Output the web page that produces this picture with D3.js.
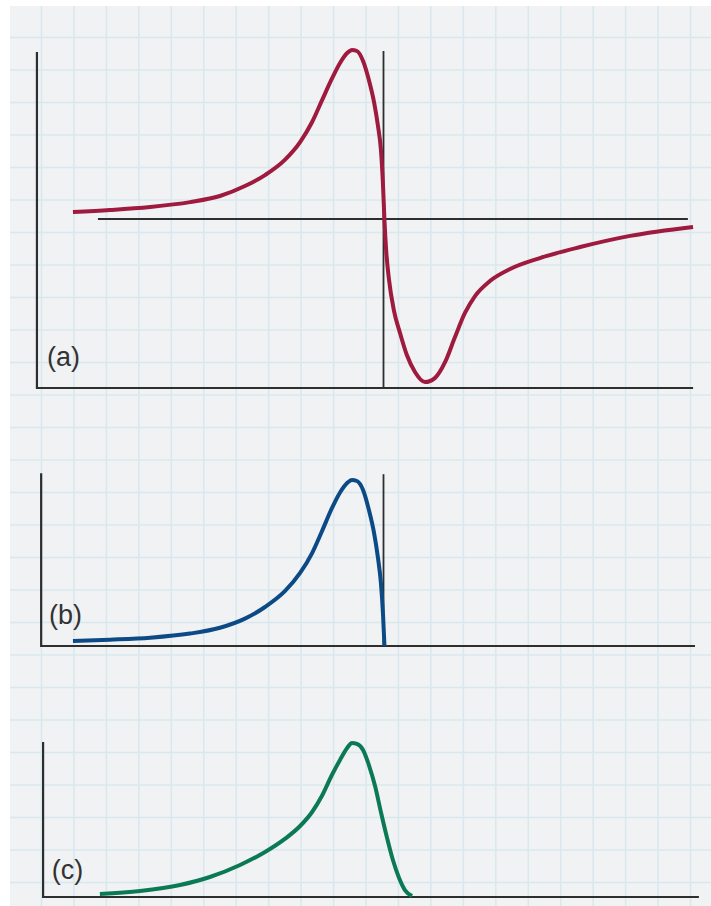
<!DOCTYPE html>
<html>
<head>
<meta charset="utf-8">
<script src="https://cdn.jsdelivr.net/npm/d3@7/dist/d3.min.js"></script>
<style>
  html, body { margin: 0; padding: 0; background: #ffffff; }
  svg { display: block; }
</style>
</head>
<body>
<script>
// Energy axis: 0 sits on the vertical marker line, one unit per grid square.
// Panel (a): derivative-shaped signal (positive lobe, then negative lobe).
const curveA_x = [-9.57, -8.43, -7.19, -5.96, -5.04, -4.27, -3.65, -3.04, -2.57, -2.20, -1.90, -1.59,
                  -1.34, -1.12, -0.97, -0.82, -0.63, -0.45, -0.29, -0.17, -0.08, -0.015, 0.03, 0.08,
                  0.17, 0.32, 0.51, 0.72, 0.97, 1.28, 1.59, 1.90, 2.20, 2.51, 2.82, 3.28, 3.90,
                  4.82, 6.06, 7.60, 9.54];
const curveA_y = [0.041, 0.053, 0.071, 0.10, 0.136, 0.195, 0.26, 0.35, 0.455, 0.574, 0.70, 0.83,
                  0.923, 0.982, 1.0, 0.994, 0.935, 0.822, 0.69, 0.55, 0.41, 0.20, -0.01, -0.18,
                  -0.36, -0.54, -0.675, -0.805, -0.905, -0.965, -0.94, -0.846, -0.70, -0.556, -0.456, -0.367, -0.296,
                  -0.231, -0.166, -0.10, -0.047];

// Panel (b): the positive lobe, cut off at the marker.
const curveB_x = [-9.57, -8.43, -7.19, -5.96, -5.04, -4.27, -3.65, -3.04, -2.57, -2.20, -1.90, -1.59,
                  -1.34, -1.12, -0.97, -0.82, -0.63, -0.45, -0.29, -0.17, -0.08, -0.015, 0.03];
const curveB_y = [0.03, 0.038, 0.05, 0.075, 0.11, 0.165, 0.235, 0.33, 0.44, 0.56, 0.69, 0.83,
                  0.925, 0.982, 1.0, 0.994, 0.94, 0.82, 0.68, 0.53, 0.38, 0.19, 0.0];

// Panel (c): a single peak falling to zero just past the marker.
const curveC_x = [-8.74, -7.50, -6.27, -5.35, -4.42, -3.65, -3.04, -2.57, -2.20, -1.90, -1.59, -1.34,
                  -1.12, -0.97, -0.82, -0.63, -0.45, -0.26, -0.08, 0.11, 0.29, 0.48, 0.66, 0.88];
const curveC_y = [0.019, 0.039, 0.078, 0.13, 0.208, 0.292, 0.377, 0.461, 0.552, 0.656, 0.792, 0.89,
                  0.968, 1.0, 0.994, 0.955, 0.857, 0.721, 0.552, 0.383, 0.24, 0.123, 0.045, 0.006];

const panelLabels = ["(a)", "(b)", "(c)"];

const W = 711, H = 906;
const svg = d3.select("body").append("svg").attr("width", W).attr("height", H);

// Graph-paper background
const paper = { left: 10, top: 6 };
svg.append("rect").attr("x", paper.left).attr("y", paper.top)
  .attr("width", W - paper.left).attr("height", H - paper.top).attr("fill", "#f1f2f3");

const gridDX = 32.45, gridDY = 32.5, gridX0 = 41.5, gridY0 = 37.5;
const gx = d3.range(gridX0 - gridDX, W + 1, gridDX).filter(v => v > paper.left);
const gy = d3.range(gridY0 - gridDY, H + 1, gridDY).filter(v => v > paper.top);
const grid = svg.append("g").attr("stroke", "#d8e8ee").attr("stroke-width", 1.5);
grid.selectAll("line.v").data(gx).join("line").attr("class", "v")
  .attr("x1", d => d).attr("x2", d => d).attr("y1", paper.top).attr("y2", H);
grid.selectAll("line.h").data(gy).join("line").attr("class", "h")
  .attr("y1", d => d).attr("y2", d => d).attr("x1", paper.left).attr("x2", W);

// Shared energy scale
const x = d3.scaleLinear().domain([-10, 10]).range([59, 708]);

const panels = [
  { label: panelLabels[0], xs: curveA_x, ys: curveA_y, color: "#9e1a3e",
    y: d3.scaleLinear().domain([-1, 1]).range([388, 50]),
    axisLeft: -10.68, axisTop: 0.988, axisRight: 9.54, bottom: -1,
    zeroLine: [-8.8, 9.38], marker: [0.994, -1], labelPos: [-10.37, -0.87] },
  { label: panelLabels[1], xs: curveB_x, ys: curveB_y, color: "#0c4a85",
    y: d3.scaleLinear().domain([0, 1]).range([646, 480]),
    axisLeft: -10.55, axisTop: 1.04, axisRight: 9.6, bottom: 0,
    zeroLine: null, marker: [1.035, 0], labelPos: [-10.31, 0.133] },
  { label: panelLabels[2], xs: curveC_x, ys: curveC_y, color: "#0b7a54",
    y: d3.scaleLinear().domain([0, 1]).range([897, 743]),
    axisLeft: -10.49, axisTop: 1.006, axisRight: 9.72, bottom: 0,
    zeroLine: null, marker: null, labelPos: [-10.22, 0.117] }
];

panels.forEach(p => {
  const g = svg.append("g");
  const ax = g.append("g").attr("stroke", "#2e2e2e").attr("fill", "none");
  // L-shaped frame
  ax.append("path").attr("stroke-width", 2.2)
    .attr("d", d3.line()([[x(p.axisLeft), p.y(p.axisTop)], [x(p.axisLeft), p.y(p.bottom)], [x(p.axisRight), p.y(p.bottom)]]));
  if (p.zeroLine) {
    ax.append("line").attr("stroke-width", 2)
      .attr("x1", x(p.zeroLine[0])).attr("x2", x(p.zeroLine[1]))
      .attr("y1", p.y(0)).attr("y2", p.y(0));
  }
  if (p.marker) {
    ax.append("line").attr("stroke-width", 1.8)
      .attr("x1", x(0)).attr("x2", x(0))
      .attr("y1", p.y(p.marker[0])).attr("y2", p.y(p.marker[1]));
  }
  const pts = p.xs.map((v, i) => [v, p.ys[i]]);
  g.append("path").datum(pts)
    .attr("fill", "none").attr("stroke", p.color).attr("stroke-width", 4)
    .attr("stroke-linejoin", "round")
    .attr("d", d3.line().x(d => x(d[0])).y(d => p.y(d[1])).curve(d3.curveMonotoneX));
  g.append("text").attr("x", x(p.labelPos[0])).attr("y", p.y(p.labelPos[1]))
    .attr("font-family", "Liberation Sans, Arial, sans-serif").attr("font-size", 27)
    .attr("fill", "#333").text(p.label);
});
</script>
</body>
</html>
